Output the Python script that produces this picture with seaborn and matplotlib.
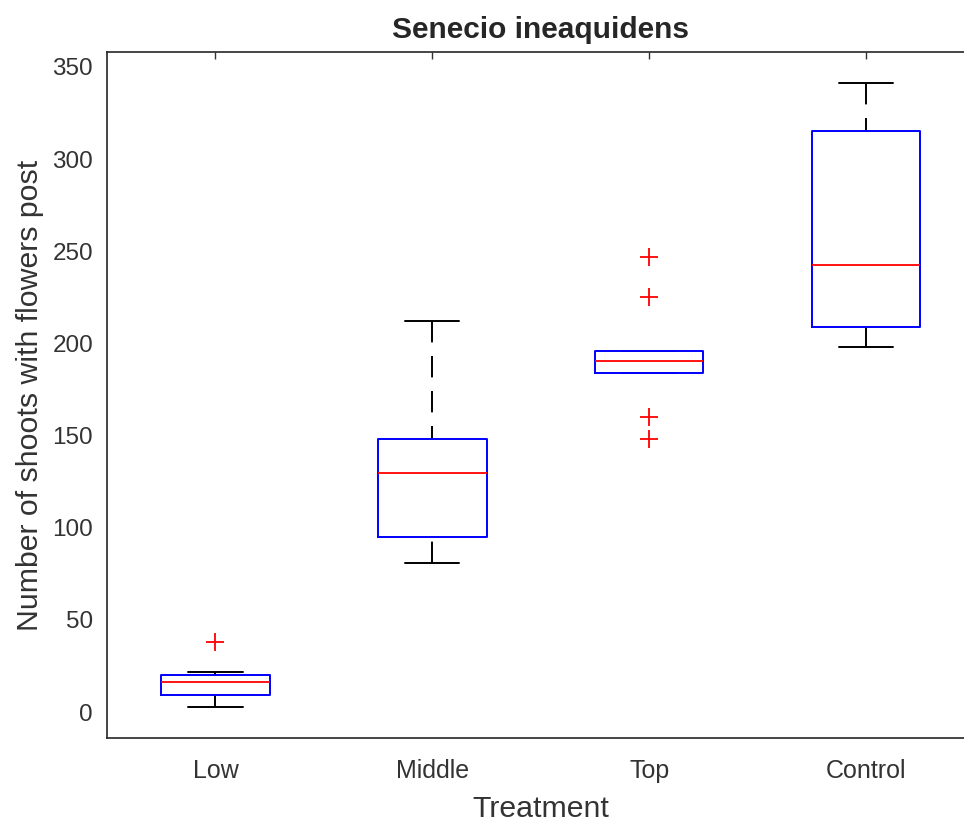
import numpy as np
import pandas as pd
import matplotlib
matplotlib.use("Agg")
import matplotlib.pyplot as plt
import matplotlib.colors as mcolors
import seaborn as sns

# shoot counts, one list per treatment
low = [2.5, 5, 9.0, 12, 16.5, 18, 20.1, 21.9, 38.2]
middle = [80.8, 88, 95, 110, 129.7, 140, 148, 180, 212]
top = [148.0, 159.9, 183.8, 183.8, 186, 188, 190.4, 192, 194, 195.9, 195.9, 225.2, 246.7]
control = [198, 205, 208.9, 225, 242.5, 270, 315.2, 330, 341.3]
treatments = ["Low", "Middle", "Top", "Control"]

df = pd.concat([pd.DataFrame({"Treatment": t, "shoots": v})
                for t, v in zip(treatments, [low, middle, top, control])])

sns.set_style("white")
plt.rcParams["font.family"] = ["Liberation Sans", "DejaVu Sans"]

fig = plt.figure(figsize=(9.64, 8.22), dpi=100)
ax = fig.add_axes([0.111, 0.1022, 0.900, 0.8345])

sns.boxplot(data=df, x="Treatment", y="shoots", order=treatments, ax=ax,
            fill=False, width=0.5, whis=1.5, linewidth=1.3,
            boxprops=dict(color="blue", linewidth=1.4),
            medianprops=dict(color="red", linewidth=1.3),
            whiskerprops=dict(color="black", linewidth=1.4, linestyle=(0, (11, 7))),
            capprops=dict(color="black", linewidth=1.4),
            flierprops=dict(marker="+", markeredgecolor="red", markersize=13,
                            markeredgewidth=1.3, linestyle="none"))

# matlab starts the dash pattern at the cap end
for ln in ax.lines:
    if ln.get_linestyle() == "--":
        x, y = ln.get_data()
        ln.set_data(x[::-1], y[::-1])
# boxes sit on top of the caps (Top group has whiskers at the quartiles)
for ln in ax.lines:
    c = mcolors.to_hex(ln.get_color())
    if c == "#0000ff":
        ln.set_zorder(5)
    elif c == "#ff0000":
        ln.set_zorder(6)

ax.set_xlim(-0.5, 3.5)
ax.set_ylim(-14.1, 358.1)
ax.set_yticks(range(0, 351, 50))
ax.tick_params(direction="in", length=5, width=1, colors="#333333",
               labelsize=17.5, top=True, right=True)
ax.tick_params(axis="y", pad=10)
ax.tick_params(axis="x", labelsize=18, pad=15)
for s in ax.spines.values():
    s.set_color("#262626")
    s.set_linewidth(1.2)
    s.set_visible(True)

ax.set_title("Senecio ineaquidens", fontsize=21.5, fontweight="bold", pad=10)
ax.set_xlabel("Treatment", fontsize=21.8, color="#333333", labelpad=9)
ax.set_ylabel("Number of shoots with flowers post", fontsize=21.8,
              color="#333333", labelpad=6)

fig.savefig("out.png", dpi=100)
